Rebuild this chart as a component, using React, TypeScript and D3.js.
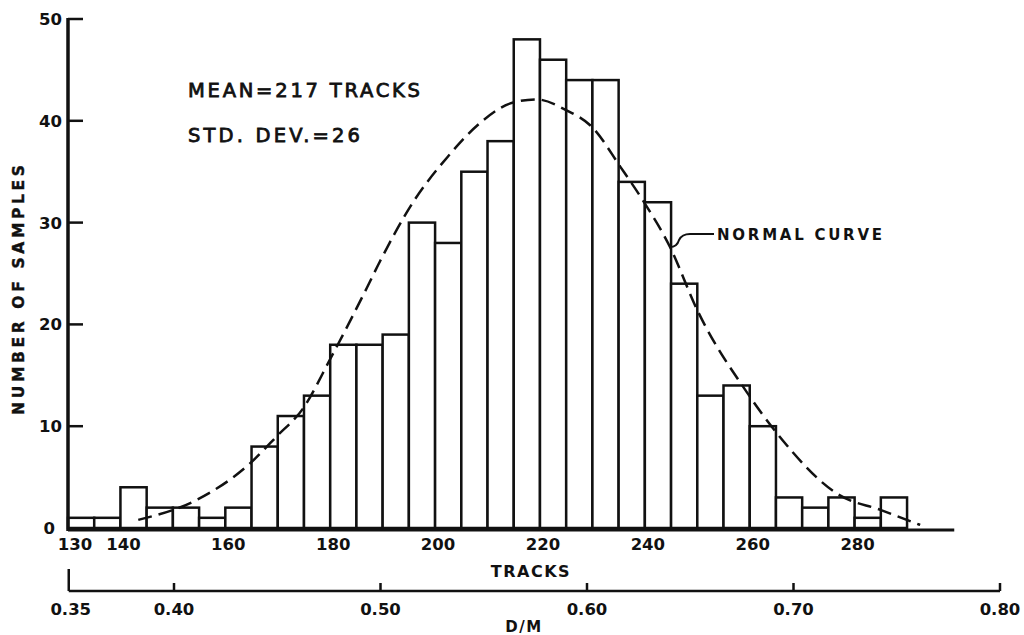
import React from "react";
import * as d3 from "d3";

// histogram of track counts, 5-track bins
const binStarts = [130, 135, 140, 145, 150, 155, 160, 165, 170, 175, 180, 185, 190, 195, 200, 205, 210, 215, 220, 225, 230, 235, 240, 245, 250, 255, 260, 265, 270, 275, 280, 285];
const binCounts = [1, 1, 4, 2, 2, 1, 2, 8, 11, 13, 18, 18, 19, 30, 28, 35, 38, 48, 46, 44, 44, 34, 32, 24, 13, 14, 10, 3, 2, 3, 1, 3];
const binWidth = 5;

// dashed "normal curve"
const curveTracks = [143.4, 154.5, 164.4, 169.8, 174.9, 180.0, 187.0, 189.5, 195.8, 202.3, 208.6, 214.9, 219.4, 224.8, 230.1, 235.3, 239.6, 244.8, 250.0, 259.5, 265.2, 277.2, 284.8, 292.5];
const curveCounts = [0.8, 2.75, 6.2, 9.0, 11.8, 16.6, 23.6, 26.2, 32.0, 36.4, 39.8, 41.8, 42.1, 41.1, 39.3, 35.5, 32.2, 27.6, 21.4, 13.3, 9.3, 3.2, 1.8, 0.3];

const trackTicks = [130, 140, 160, 180, 200, 220, 240, 260, 280];
const countTicks = [0, 10, 20, 30, 40, 50];
const dmTicks = [0.35, 0.4, 0.5, 0.6, 0.7, 0.8];

const annotations = ["MEAN=217 TRACKS", "STD. DEV.=26"];

const font = "'DejaVu Sans', 'Liberation Sans', Arial, sans-serif";

export default function App() {
  const width = 1024;
  const height = 635;

  const x = d3.scaleLinear().domain([130, 300]).range([68, 959.5]);
  const y = d3.scaleLinear().domain([0, 50]).range([528, 19]);
  const dm = d3.scaleLinear().domain([0.4, 0.8]).range([174, 1000]);

  const curvePath = d3
    .line<number>()
    .x((_, i) => x(curveTracks[i]))
    .y((d) => y(d))
    .curve(d3.curveMonotoneX)(curveCounts);

  // leader for the "normal curve" label, anchored on the curve
  const ax = x(244.8);
  const ay = y(27.6);
  const leader = `M${ax},${ay} Q${ax + 7},${ay} ${ax + 9},${ay - 7} Q${ax + 12},${ay - 13} ${ax + 20},${ay - 13} L${ax + 44},${ay - 13}`;

  const dmY = 591;

  return (
    <svg
      width={width}
      height={height}
      style={{ position: "absolute", left: 0, top: 0, background: "#fff" }}
      fontFamily={font}
    >
      {/* bars */}
      <g fill="#fff" stroke="#111" strokeWidth={2.5}>
        {binStarts.map((b, i) => (
          <rect
            key={b}
            x={x(b)}
            y={y(binCounts[i])}
            width={x(b + binWidth) - x(b)}
            height={y(0) - y(binCounts[i])}
          />
        ))}
      </g>

      {/* normal curve */}
      <path d={curvePath || ""} fill="none" stroke="#111" strokeWidth={2.5} strokeDasharray="14 7" />

      {/* y axis */}
      <line x1={x(130)} x2={x(130)} y1={y(50) - 1} y2={y(0) + 3} stroke="#111" strokeWidth={3.5} />
      {countTicks.map((t) => (
        <g key={t}>
          {t > 0 && <line x1={x(130)} x2={x(130) + 15} y1={y(t)} y2={y(t)} stroke="#111" strokeWidth={2.5} />}
          <text
            x={t === 0 ? 55 : 62}
            y={y(t)}
            dy="0.36em"
            textAnchor="end"
            fontSize={16.5}
            fontWeight="bold"
            fill="#111"
          >
            {t}
          </text>
        </g>
      ))}
      <text
        transform={`translate(24,${290}) rotate(-90)`}
        textAnchor="middle"
        fontSize={15.5}
        fontWeight="bold"
        fill="#111"
        stroke="#111"
        strokeWidth={0.4}
        textLength={250}
        lengthAdjust="spacing"
      >
        NUMBER OF SAMPLES
      </text>

      {/* tracks axis */}
      <line x1={x(130)} x2={x(299)} y1={y(0) + 2} y2={y(0) + 2} stroke="#111" strokeWidth={3} />
      {trackTicks.map((t) => (
        <text
          key={t}
          x={x(t) + (t === 130 ? 7 : 3)}
          y={550}
          textAnchor="middle"
          fontSize={16.5}
          fontWeight="bold"
          fill="#111"
        >
          {t}
        </text>
      ))}
      <text x={531} y={577} textAnchor="middle" fontSize={16} fontWeight="bold" fill="#111" letterSpacing={1.5}>
        TRACKS
      </text>

      {/* D/M axis */}
      <line x1={dm(0.35) - 2} x2={dm(0.8)} y1={dmY} y2={dmY} stroke="#111" strokeWidth={2.5} />
      {dmTicks.map((t) => (
        <g key={t}>
          <line
            x1={t === 0.35 ? dm(t) - 2 : dm(t)}
            x2={t === 0.35 ? dm(t) - 2 : dm(t)}
            y1={dmY}
            y2={t === 0.35 ? dmY - 22 : dmY - 8}
            stroke="#111"
            strokeWidth={2.5}
          />
          <text x={dm(t)} y={615} textAnchor="middle" fontSize={16.5} fontWeight="bold" fill="#111">
            {t.toFixed(2)}
          </text>
        </g>
      ))}
      <text x={524} y={632} textAnchor="middle" fontSize={15} fontWeight="bold" fill="#111" letterSpacing={1.5}>
        D/M
      </text>

      {/* annotations */}
      <text x={188} y={97} fontSize={19.5} fill="#111" stroke="#111" strokeWidth={0.8} textLength={232} lengthAdjust="spacing">
        {annotations[0]}
      </text>
      <text x={188} y={142} fontSize={19.5} fill="#111" stroke="#111" strokeWidth={0.8} textLength={172} lengthAdjust="spacing">
        {annotations[1]}
      </text>

      <path d={leader} fill="none" stroke="#111" strokeWidth={2} />
      <text
        x={ax + 47}
        y={ay - 7}
        fontSize={15}
        fontWeight="bold"
        fill="#111"
        textLength={165}
        lengthAdjust="spacing"
      >
        NORMAL CURVE
      </text>
    </svg>
  );
}
